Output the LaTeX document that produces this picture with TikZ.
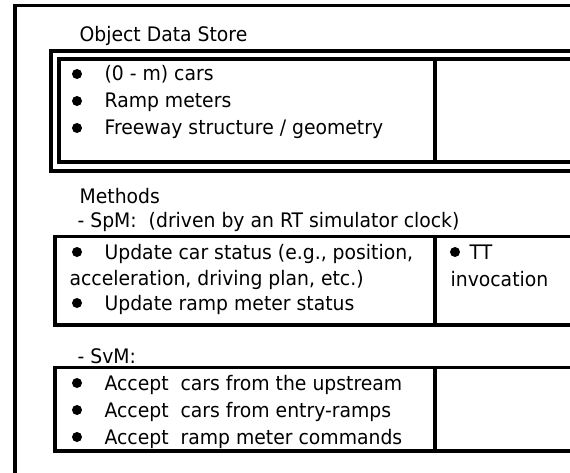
\documentclass[tikz,border=0pt]{standalone}
\usepackage{fontspec}
\setmainfont{DejaVu Sans}[FakeStretch=0.94]
\usepackage{tikz}

\begin{document}
\begin{tikzpicture}[x=1pt, y=-1pt, line width=3.2pt,
    txt/.style={anchor=base west, inner sep=0pt, font=\fontsize{20}{24}\selectfont}]
    \useasboundingbox (0,0) rectangle (570,473);
    \clip (0,0) rectangle (570,473);

    % outer frame
    \draw (15,480) -- (15,5.5) -- (580,5.5);

    % object data store
    \node[txt] (ods) at (78,42) {Object Data Store};
    \draw (580,51) -- (51,51) -- (51,171) -- (580,171);
    \draw (580,59) -- (59,59) -- (59,162) -- (580,162);
    \draw (435,59) -- (435,162);
    \node[txt] (cars) at (103,81) {(0 - m) cars};
    \node[txt] (ramp) at (103,108) {Ramp meters};
    \node[txt] (fwy) at (103,135) {Freeway structure / geometry};

    % methods
    \node[txt] (meth) at (78,204) {Methods};
    \node[txt] (spm) at (76,227) {- SpM:\ \ (driven by an RT simulator clock)};
    \draw (580,236.5) -- (55,236.5) -- (55,325) -- (580,325);
    \draw (435,236.5) -- (435,325);
    \node[txt] (updcar) at (103,259) {Update car status (e.g., position,};
    \node[txt] (accel) at (68,285) {acceleration, driving plan, etc.)};
    \node[txt] (updramp) at (103,310) {Update ramp meter status};
    \node[txt] (tt) at (468,259) {TT};
    \node[txt] (invoc) at (449,286) {invocation};

    \node[txt] (svm) at (76,363) {- SvM:};
    \draw (580,367.5) -- (55,367.5) -- (55,451) -- (580,451);
    \draw (435,367.5) -- (435,451);
    \node[txt] (upstr) at (103,390) {Accept\ \ cars from the upstream};
    \node[txt] (entry) at (103,417) {Accept\ \ cars from entry-ramps};
    \node[txt] (cmds) at (103,444) {Accept\ \ ramp meter commands};

    % bullets
    \foreach \y in {74,101,128,252,303,383,410,437}
        \fill (77,\y) circle (5pt);
    \fill (455,252) circle (5pt);
\end{tikzpicture}
\end{document}
